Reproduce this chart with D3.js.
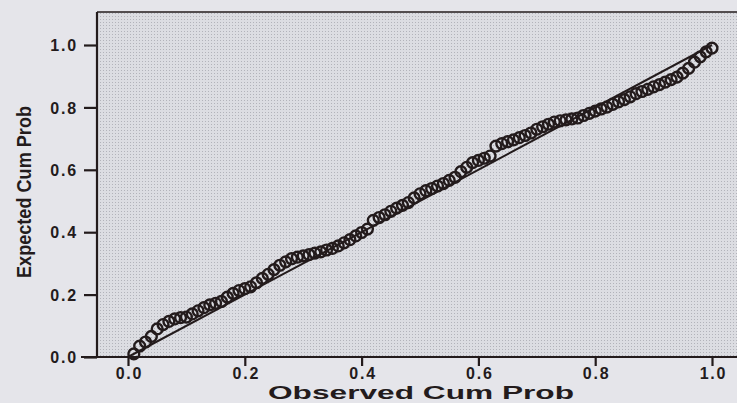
<!DOCTYPE html>
<html><head><meta charset="utf-8">
<script src="https://cdn.jsdelivr.net/npm/d3@7"></script>
<style>html,body{margin:0;padding:0;background:#e5e5ea;}svg{display:block;}</style>
</head><body>
<svg id="c" width="737" height="403"></svg>
<script>
// Observed cumulative probabilities (i/n) and expected cumulative probabilities
const observed = [0.01,0.02,0.03,0.04,0.05,0.06,0.07,0.08,0.09,0.10,0.11,0.12,0.13,0.14,0.15,0.16,0.17,0.18,0.19,0.20,
0.21,0.22,0.23,0.24,0.25,0.26,0.27,0.28,0.29,0.30,0.31,0.32,0.33,0.34,0.35,0.36,0.37,0.38,0.39,0.40,
0.41,0.42,0.43,0.44,0.45,0.46,0.47,0.48,0.49,0.50,0.51,0.52,0.53,0.54,0.55,0.56,0.57,0.58,0.59,0.60,
0.61,0.62,0.63,0.64,0.65,0.66,0.67,0.68,0.69,0.70,0.71,0.72,0.73,0.74,0.75,0.76,0.77,0.78,0.79,0.80,
0.81,0.82,0.83,0.84,0.85,0.86,0.87,0.88,0.89,0.90,0.91,0.92,0.93,0.94,0.95,0.96,0.97,0.98,0.99,1.00];
const expected = [0.010,0.035,0.048,0.066,0.090,0.104,0.114,0.122,0.126,0.128,0.138,0.148,0.158,0.167,0.172,0.178,0.192,0.204,0.213,0.219,
0.225,0.238,0.252,0.265,0.280,0.294,0.305,0.315,0.320,0.324,0.328,0.333,0.337,0.343,0.348,0.356,0.366,0.376,0.388,0.399,
0.410,0.438,0.447,0.456,0.467,0.477,0.486,0.495,0.510,0.523,0.533,0.540,0.548,0.556,0.566,0.576,0.594,0.608,0.623,0.630,
0.637,0.644,0.676,0.684,0.690,0.696,0.703,0.710,0.718,0.730,0.738,0.746,0.753,0.757,0.760,0.763,0.766,0.774,0.781,0.788,
0.795,0.801,0.810,0.818,0.825,0.834,0.844,0.851,0.858,0.866,0.873,0.881,0.889,0.897,0.910,0.925,0.945,0.962,0.978,0.990];
const refLine = [0, 1];
const tickValues = [0.0, 0.2, 0.4, 0.6, 0.8, 1.0];
const xTitle = "Observed Cum Prob";
const yTitle = "Expected Cum Prob";

(function () {
const svg = d3.select("#c");
const ink = "#231b1c";
const pL = 97, pT = 12, pR = 737, pB = 357;

const x = d3.scaleLinear().domain([0, 1]).range([128, 712]);
const y = d3.scaleLinear().domain([0, 1]).range([357, 45]);

// background
svg.append("rect").attr("width", 737).attr("height", 403).attr("fill", "#e5e5ea");
const defs = svg.append("defs");
const pat = defs.append("pattern").attr("id", "dots").attr("width", 3).attr("height", 3).attr("patternUnits", "userSpaceOnUse");
pat.append("rect").attr("width", 3).attr("height", 3).attr("fill", "#dcdde2");
pat.append("rect").attr("x", 1).attr("y", 1).attr("width", 1).attr("height", 1).attr("fill", "#b2b3ba");
svg.append("rect").attr("x", pL).attr("y", pT).attr("width", pR - pL).attr("height", pB - pT).attr("fill", "url(#dots)");

// frame
svg.append("line").attr("x1", pL).attr("x2", pR).attr("y1", pT).attr("y2", pT).attr("stroke", ink).attr("stroke-width", 1.6);
svg.append("line").attr("x1", pL).attr("x2", pL).attr("y1", pT).attr("y2", pB).attr("stroke", ink).attr("stroke-width", 2.2);
svg.append("line").attr("x1", 81).attr("x2", pR).attr("y1", pB).attr("y2", pB).attr("stroke", ink).attr("stroke-width", 2.2);

// y axis
const yAx = d3.axisLeft(y).tickValues(tickValues).tickFormat(d3.format(".1f")).tickSize(13).tickPadding(6);
const gy = svg.append("g").attr("transform", `translate(${pL},0)`).call(yAx);
gy.select(".domain").remove();
gy.selectAll(".tick line").attr("stroke", ink).attr("stroke-width", 2.2);
gy.selectAll(".tick text").attr("fill", ink).attr("font-family", "Liberation Sans, Arial, sans-serif")
  .attr("font-weight", "bold").attr("font-size", 16).attr("letter-spacing", 1.8).attr("dy", "0.35em");

// x axis
const xAx = d3.axisBottom(x).tickValues(tickValues).tickFormat(d3.format(".1f")).tickSize(9).tickPadding(2);
const gx = svg.append("g").attr("transform", `translate(0,${pB})`).call(xAx);
gx.select(".domain").remove();
gx.selectAll(".tick line").attr("stroke", ink).attr("stroke-width", 2.2);
gx.selectAll(".tick text").attr("fill", ink).attr("font-family", "Liberation Sans, Arial, sans-serif")
  .attr("font-weight", "bold").attr("font-size", 16).attr("letter-spacing", 1.8).attr("dx", "1px");

// titles
svg.append("text").attr("x", 421).attr("y", 399).attr("text-anchor", "middle")
  .attr("font-family", "Liberation Sans, Arial, sans-serif").attr("font-weight", "bold").attr("font-size", 18)
  .attr("textLength", 306).attr("lengthAdjust", "spacingAndGlyphs").attr("fill", ink).text(xTitle);
svg.append("text").attr("transform", "translate(31,192) rotate(-90)").attr("text-anchor", "middle")
  .attr("font-family", "Liberation Sans, Arial, sans-serif").attr("font-weight", "bold").attr("font-size", 21)
  .attr("textLength", 172).attr("lengthAdjust", "spacingAndGlyphs").attr("fill", ink).text(yTitle);

// reference line
svg.append("line").attr("x1", x(refLine[0])).attr("y1", y(refLine[0])).attr("x2", x(refLine[1])).attr("y2", y(refLine[1]))
  .attr("stroke", ink).attr("stroke-width", 2);

// points
const pts = observed.map((o, i) => ({o, e: expected[i]}));
svg.append("g").selectAll("circle").data(pts).join("circle")
  .attr("cx", d => x(d.o)).attr("cy", d => y(d.e)).attr("r", 5.4)
  .attr("fill", "none").attr("stroke", ink).attr("stroke-width", 2.4);
})();
</script>
</body></html>
